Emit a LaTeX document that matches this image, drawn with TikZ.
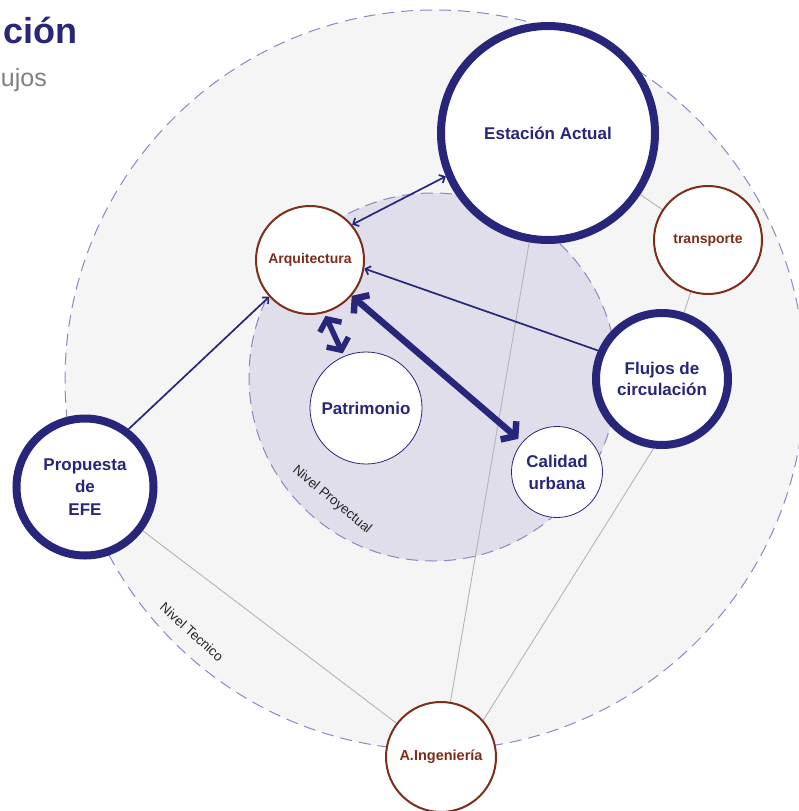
\documentclass[tikz,border=0pt]{standalone}
\usepackage{fontspec}
\setmainfont{Liberation Sans}
\usetikzlibrary{arrows.meta}
\definecolor{navy}{HTML}{28267A}
\definecolor{brick}{HTML}{7D2E1B}
\definecolor{dashblue}{HTML}{8A88C2}
\definecolor{ringgray}{HTML}{F5F5F5}
\definecolor{lilac}{HTML}{DFDEEA}
\definecolor{linkgray}{HTML}{B4B4B4}
\pgfdeclarelayer{rings}
\pgfdeclarelayer{links}
\pgfsetlayers{rings,links,main}

\begin{document}
\begin{tikzpicture}[x=1pt,y=-1pt,
  bignode/.style={circle,draw=navy,line width=8pt,fill=white,text=navy,inner sep=0pt,align=center,font=\bfseries\fontsize{17}{21}\selectfont},
  thinnode/.style={circle,draw=navy,line width=0.8pt,fill=white,text=navy,inner sep=0pt,align=center,font=\bfseries\fontsize{17}{22}\selectfont},
  brownnode/.style={circle,draw=brick,line width=2pt,fill=white,text=brick,inner sep=0pt,font=\bfseries\fontsize{14}{16}\selectfont},
  link/.style={draw=linkgray,line width=0.9pt},
  thinarrow/.style={draw=navy,line width=1.7pt,-{Straight Barb[length=4.5pt,width=9pt]}},
  thickarrow/.style={draw=navy,line width=6.5pt,{Straight Barb[length=9pt,width=24pt]}-{Straight Barb[length=9pt,width=24pt]}},
  ringlabel/.style={text=black!85,font=\fontsize{13.5}{16}\selectfont,inner sep=0pt}]
\path[use as bounding box] (0,0) rectangle (798,811);
\begin{pgfonlayer}{rings}
\fill[ringgray] (435,380) circle (370);
\draw[dashblue,line width=1pt,dash pattern=on 12pt off 7pt] (435,380) circle (370);
\fill[lilac] (433,377) circle (184);
\draw[dashblue,line width=1pt,dash pattern=on 12pt off 7pt] (433,377) circle (184);
\end{pgfonlayer}
\node[anchor=base east,inner sep=0pt,text=navy,font=\bfseries\fontsize{36}{40}\selectfont] (titulo) at (78,43) {ción};
\node[anchor=base east,inner sep=0pt,text=black!50,font=\fontsize{25}{28}\selectfont] (subtitulo) at (47,86) {ujos};
\node[bignode,minimum size=214pt] (est) at (548,133) {Estación Actual};
\node[bignode,minimum size=132pt] (flujos) at (662,379) {Flujos de\\circulación};
\node[bignode,minimum size=137pt,font=\bfseries\fontsize{17}{22.5}\selectfont] (efe) at (85,487) {Propuesta\\de\\EFE};
\node[thinnode,minimum size=112pt] (patri) at (366,408) {Patrimonio};
\node[thinnode,minimum size=91pt] (calidad) at (557,472) {Calidad\\urbana};
\node[brownnode,minimum size=108pt] (arq) at (310,260) {Arquitectura};
\node[brownnode,minimum size=108pt] (trans) at (708,240) {transporte};
\node[brownnode,minimum size=110pt,font=\bfseries\fontsize{14.5}{16}\selectfont] (ing) at (441,757) {A.Ingeniería};
\begin{pgfonlayer}{links}
\draw[link] (est) -- (trans);
\draw[link] (trans) -- (flujos);
\draw[link] (est) -- (ing);
\draw[link] (flujos.-97) -- (ing.41);
\draw[link] (efe) -- (ing);
\end{pgfonlayer}
\draw[thinarrow,{Straight Barb[length=4.5pt,width=9pt]}-{Straight Barb[length=4.5pt,width=9pt]}] (arq.40) -- (est.203);
\draw[thinarrow] (flujos.156) -- (arq.-9);
\draw[thinarrow] (efe.53) -- (arq.222);
\draw[thickarrow,line width=5.5pt,shorten <=3pt,shorten >=3pt] (arq.-75) -- (patri.113);
\draw[thickarrow,shorten >=5pt] (arq) -- (calidad);
\node[ringlabel,rotate=-39.5] (proyectual) at (332,500) {Nivel Proyectual};
\node[ringlabel,rotate=-42] (tecnico) at (192,632) {Nivel Tecnico};
\end{tikzpicture}
\end{document}
